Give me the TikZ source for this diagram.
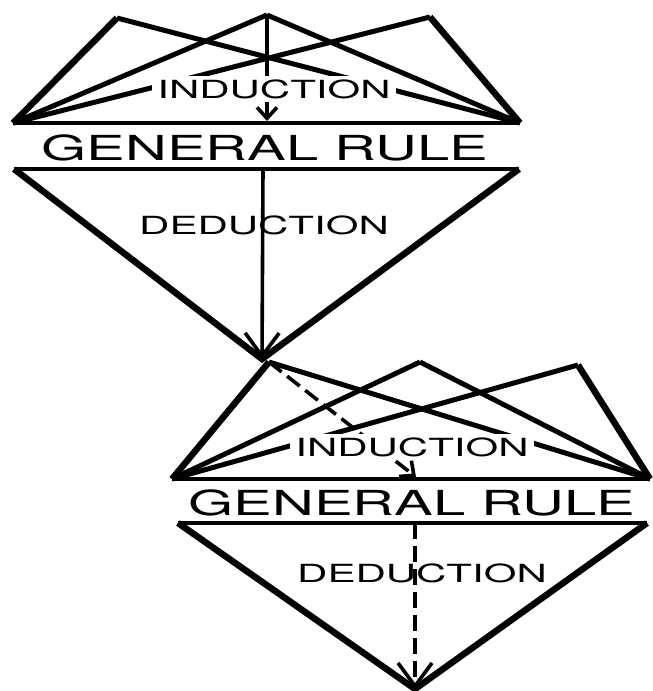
\documentclass[tikz,border=0pt]{standalone}
\usepackage{fontspec}
\setmainfont{TeX Gyre Heros}
\usepackage{graphicx}
\usetikzlibrary{arrows.meta}

\newcommand{\widetext}[1]{\scalebox{1.68}[1]{#1}}

\begin{document}
\begin{tikzpicture}[
  x=1pt,
  y=-1pt,
  edge/.style={line width=6.5pt, line join=miter},
  ray/.style={line width=5pt},
  band/.style={line width=4.5pt},
  flow/.style={line width=3.6pt, -{Straight Barb[length=11pt,width=20pt]}},
  bigflow/.style={line width=3.6pt, -{Straight Barb[length=23pt,width=34pt]}},
  gap/.style={dash pattern=on 16pt off 7pt},
  method/.style={fill=white, inner xsep=5pt, inner ysep=3pt, font=\fontsize{25}{28}\selectfont},
  rule/.style={inner sep=0pt, font=\fontsize{34.5}{40}\selectfont}
]
\useasboundingbox (0,0) rectangle (653,691);

% upper diagram
\coordinate (pA) at (117,18);
\coordinate (pB) at (267,15);
\coordinate (pC) at (430,17);
\coordinate (bL) at (13,123);
\coordinate (bR) at (520,123);
\coordinate (gtop) at (267,121);
\coordinate (dL) at (14,169);
\coordinate (dR) at (519,169);
\coordinate (dtop) at (263,169);
\coordinate (apex) at (262,359);

\draw[edge] (bL) -- (pA);
\draw[edge] (pC) -- (bR);
\draw[ray] (bL) -- (pB);
\draw[ray] (bL) -- (pC);
\draw[ray] (pA) -- (bR);
\draw[ray] (pB) -- (bR);
\draw[band] (bL) -- (bR);
\draw[band] (dL) -- (dR);
\draw[edge] (dL) -- (apex) -- (dR);
\draw[flow] (pB) -- (gtop);
\draw[bigflow] (dtop) -- (apex);

\node[method] (ind1) at (274,89) {\widetext{INDUCTION}};
\node[rule] (gr1) at (265,148) {\widetext{GENERAL RULE}};
\node[method, fill=none] (ded1) at (264,225) {\widetext{DEDUCTION}};

% lower diagram
\coordinate (qA) at (269,362);
\coordinate (qB) at (420,362);
\coordinate (qC) at (578,365);
\coordinate (cL) at (172,479);
\coordinate (cR) at (650,479);
\coordinate (htop) at (416,477);
\coordinate (eL) at (178,523);
\coordinate (eR) at (647,523);
\coordinate (etop) at (415,523);
\coordinate (foot) at (415,689);

\draw[edge] (cL) -- (qA);
\draw[edge] (qC) -- (cR);
\draw[ray] (cL) -- (qB);
\draw[ray] (cL) -- (qC);
\draw[ray] (qA) -- (cR);
\draw[ray] (qB) -- (cR);
\draw[band] (cL) -- (cR);
\draw[band] (eL) -- (eR);
\draw[edge] (eL) -- (foot) -- (eR);
\draw[flow, gap] (qA) -- (htop);
\draw[bigflow, gap] (etop) -- (foot);

\node[method] (ind2) at (412,447) {\widetext{INDUCTION}};
\node[rule] (gr2) at (412,503) {\widetext{GENERAL RULE}};
\node[method, fill=none] (ded2) at (422,573) {\widetext{DEDUCTION}};
\end{tikzpicture}
\end{document}
